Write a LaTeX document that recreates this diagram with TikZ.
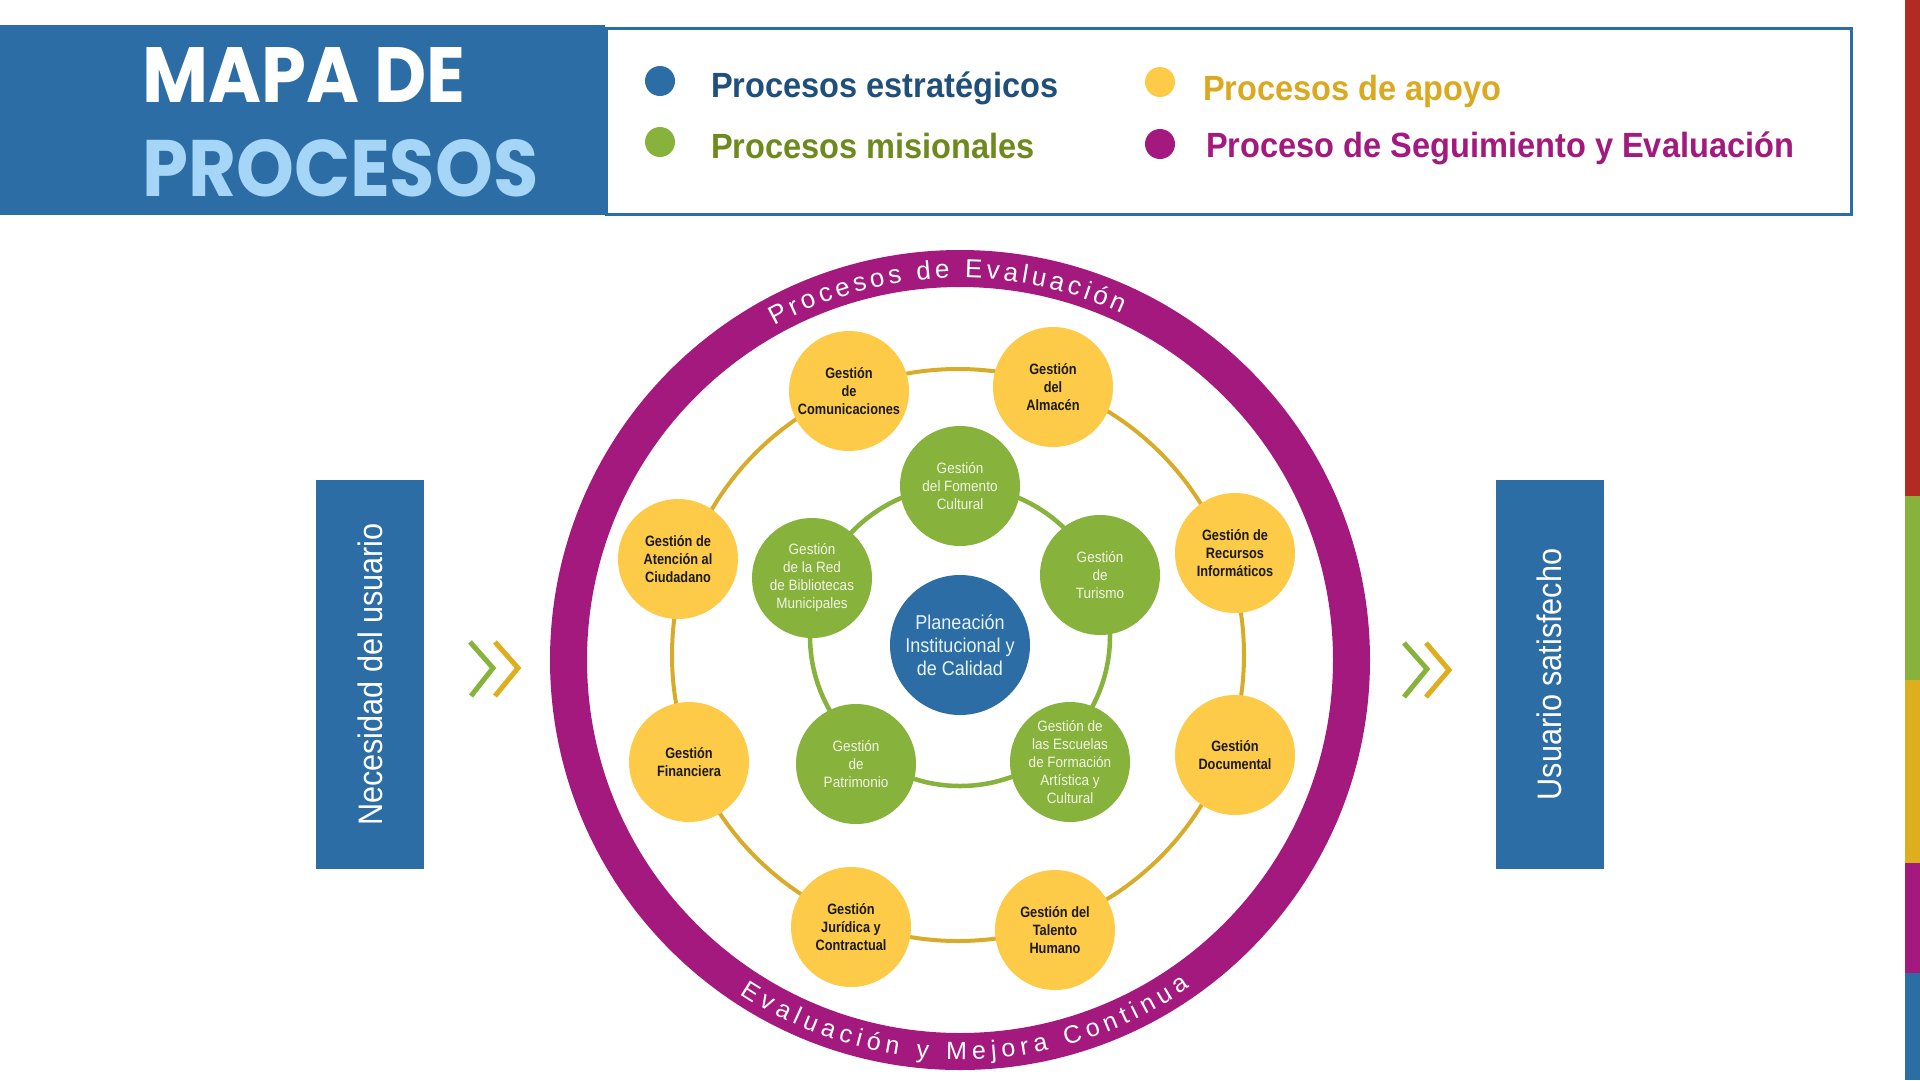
\documentclass[tikz,border=0pt]{standalone}
\usepackage{fontspec}
\usetikzlibrary{decorations.text}
\setmainfont{Liberation Sans}
\newfontfamily\headfont{Poppins}
\newfontfamily\legfont[FakeStretch=0.93]{Liberation Sans}
\newfontfamily\nodefont[FakeStretch=0.85]{Liberation Sans}
\newfontfamily\greenfont[FakeStretch=0.9]{Liberation Sans}
\newfontfamily\centfont[FakeStretch=0.9]{Liberation Sans}
\newfontfamily\sidefont[FakeStretch=0.9]{Liberation Sans}
\newfontfamily\ringfont{Liberation Sans}
\definecolor{hblue}{HTML}{2B6DA4}
\definecolor{lblue}{HTML}{A6D6F7}
\definecolor{dblue}{HTML}{1F4F7A}
\definecolor{mag}{HTML}{A3197D}
\definecolor{yel}{HTML}{FDCB48}
\definecolor{yline}{HTML}{D8AC2A}
\definecolor{grn}{HTML}{87B23B}
\definecolor{gtext}{HTML}{6E8A1E}
\definecolor{ytext}{HTML}{DBA920}
\definecolor{ytxt}{HTML}{1C1A14}
\definecolor{gtxt}{HTML}{F2F6E6}
\definecolor{ctext}{HTML}{E8F3FB}
\definecolor{barred}{HTML}{B22A22}
\definecolor{baryel}{HTML}{DDAE1E}
\begin{document}
\begin{tikzpicture}[x=1pt,y=-1pt,
  ynode/.style={circle, fill=yel, minimum size=120pt, inner sep=0pt, align=center, text=ytxt, font=\nodefont\bfseries\fontsize{15}{18}\selectfont},
  gnode/.style={circle, fill=grn, minimum size=120pt, inner sep=0pt, align=center, text=gtxt, font=\greenfont\fontsize{15}{18}\selectfont},
  legdot/.style={circle, minimum size=30pt, inner sep=0pt},
  legtext/.style={anchor=base west, inner sep=0pt, font=\legfont\bfseries\fontsize{35}{40}\selectfont},
  sidebox/.style={fill=hblue, rotate=90, minimum width=389pt, minimum height=108pt, inner sep=0pt, text=white, font=\sidefont\fontsize{34}{40}\selectfont},
  chev/.style={line width=5pt, line join=miter}
]
\useasboundingbox (0,0) rectangle (1920,1080);
\fill[white] (0,0) rectangle (1920,1080);

% header
\fill[hblue] (0,25) rectangle (605,215);
\draw[hblue, line width=3pt] (606.5,28.5) rectangle (1851.5,214);
\node[anchor=base west, inner sep=0pt, text=white] (t1) at (142,102) {\resizebox{323pt}{55pt}{\headfont\bfseries MAPA DE}};
\node[anchor=base west, inner sep=0pt, text=lblue] (t2) at (142,196) {\resizebox{396pt}{57pt}{\headfont\bfseries PROCESOS}};

% legend
\node[legdot, fill=hblue] (d1) at (660,81) {};
\node[legdot, fill=grn] (d2) at (660,142) {};
\node[legdot, fill=yel] (d3) at (1160,82) {};
\node[legdot, fill=mag] (d4) at (1160,144) {};
\node[legtext, text=dblue] (l1) at (711,97) {Procesos estratégicos};
\node[legtext, text=gtext] (l2) at (711,158) {Procesos misionales};
\node[legtext, text=ytext] (l3) at (1203,100) {Procesos de apoyo};
\node[legtext, text=mag] (l4) at (1206,157) {Proceso de Seguimiento y Evaluación};

% right colour bar
\fill[barred] (1905,0) rectangle (1920,496);
\fill[grn] (1905,496) rectangle (1920,680);
\fill[baryel] (1905,680) rectangle (1920,863);
\fill[mag] (1905,863) rectangle (1920,973);
\fill[hblue] (1905,973) rectangle (1920,1080);

% ring and orbits
\node[circle, draw=mag, line width=37pt, minimum size=783pt, inner sep=0pt] (ring) at (960,660) {};
\node[circle, draw=yline, line width=4pt, minimum size=572pt, inner sep=0pt] (yorbit) at (958,655) {};
\node[circle, draw=grn, line width=4.5pt, minimum size=300pt, inner sep=0pt] (gorbit) at (960,636) {};

\path[decorate, decoration={text along path, text align={fit to path}, text color=white,
  text={|\ringfont\fontsize{26}{30}\selectfont|Procesos de Evaluación}}]
  (960,660) ++(-119:382) arc[start angle=-119, end angle=-65, radius=382];
\path[decorate, decoration={text along path, text align={fit to path}, text color=white,
  text={|\ringfont\fontsize{25}{30}\selectfont|Evaluación y Mejora Continua}}]
  (960,660) ++(123.4:400) arc[start angle=123.4, end angle=54.9, radius=400];

% yellow nodes
\node[ynode] (y1) at (849,391) {Gestión\\de\\Comunicaciones};
\node[ynode] (y2) at (1053,387) {Gestión\\del\\Almacén};
\node[ynode] (y3) at (1235,553) {Gestión de\\Recursos\\Informáticos};
\node[ynode] (y4) at (1235,755) {Gestión\\Documental};
\node[ynode] (y5) at (1055,930) {Gestión del\\Talento\\Humano};
\node[ynode] (y6) at (851,927) {Gestión\\Jurídica y\\Contractual};
\node[ynode] (y7) at (689,762) {Gestión\\Financiera};
\node[ynode] (y8) at (678,559) {Gestión de\\Atención al\\Ciudadano};

% green nodes
\node[gnode] (g1) at (960,486) {Gestión\\del Fomento\\Cultural};
\node[gnode] (g2) at (1100,575) {Gestión\\de\\Turismo};
\node[gnode] (g3) at (1070,762) {Gestión de\\las Escuelas\\de Formación\\Artística y\\Cultural};
\node[gnode] (g4) at (856,764) {Gestión\\de\\Patrimonio};
\node[gnode] (g5) at (812,578) {Gestión\\de la Red\\de Bibliotecas\\Municipales};

% centre
\node[circle, fill=hblue, minimum size=140pt, inner sep=0pt, align=center, text=ctext,
  font=\centfont\fontsize{20}{23}\selectfont] (plan) at (960,645) {Planeación\\Institucional y\\de Calidad};

% side boxes
\node[sidebox] (nec) at (370,674.5) {Necesidad del usuario};
\node[sidebox] (usu) at (1549.5,674.5) {Usuario satisfecho};

% chevrons
\draw[chev, grn] (470,642) -- (493,668) -- (471,696);
\draw[chev, baryel] (495,642) -- (518,668) -- (495,696);
\draw[chev, grn] (1404,643) -- (1427,669) -- (1404,697);
\draw[chev, baryel] (1426,643) -- (1449,670) -- (1426,697);
\end{tikzpicture}
\end{document}
